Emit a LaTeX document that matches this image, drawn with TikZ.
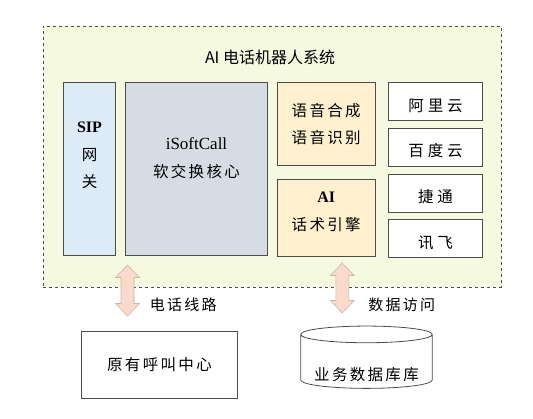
\documentclass[tikz,border=0pt]{standalone}
\usepackage{fontspec}
\setmainfont{Liberation Serif}
\newfontfamily\cjk[LetterSpace=15]{Noto Sans CJK SC}
\newfontfamily\cjkwide[LetterSpace=25]{Noto Sans CJK SC}
\newfontfamily\cjktitle{Noto Sans CJK SC}
\usepackage{tikz}
\usetikzlibrary{shapes.geometric, positioning}
\definecolor{sysgreen}{RGB}{245, 249, 224}
\definecolor{sipblue}{RGB}{221, 235, 247}
\definecolor{coregray}{RGB}{214, 220, 228}
\definecolor{aiorange}{RGB}{255, 240, 206}
\definecolor{linkpink}{RGB}{251, 217, 203}
\definecolor{linkedge}{RGB}{205, 180, 172}
\tikzstyle{system} = [rectangle, dashed, draw=black!70, fill=sysgreen, minimum width=458pt, minimum height=261pt]
\tikzstyle{block} = [rectangle, draw=black!70, line width=0.8pt, inner sep=0pt, align=center]
\tikzstyle{engine} = [block, minimum width=97.7pt, fill=aiorange]
\tikzstyle{cloud} = [block, minimum width=93.6pt, minimum height=37.9pt, fill=white, text height=19pt, text depth=0pt, font=\cjkwide\fontsize{15.5}{20}\selectfont]
\tikzstyle{link} = [draw=linkedge, fill=linkpink, line width=0.6pt, line join=miter]
\tikzstyle{database} = [cylinder, shape border rotate=90, shape aspect=0.15, draw=black!70, line width=0.8pt, minimum width=131.6pt, minimum height=62.3pt, inner ysep=0pt, text height=36pt, text depth=0pt]

\begin{document}
\begin{tikzpicture}[x=1pt, y=-1pt, node distance=7pt, font=\cjk\fontsize{15.5}{27.7}\selectfont]
        \useasboundingbox (0,0) rectangle (533,419);
        \node (system) [system] at (271.7,156.5) {};
        \node (title) at (270,57) {\cjktitle\fontsize{16}{18}\selectfont AI 电话机器人系统};

        \node (sip) [block, fill=sipblue, minimum width=52.4pt, minimum height=172.6pt] at (89.5,169) {};
        \node (siptext) [align=center] at (89.5,155.5) {{\rmfamily\bfseries\fontsize{16}{27.7}\selectfont SIP}\\网\\关};
        \node (core) [block, fill=coregray, minimum width=141.6pt, minimum height=172.6pt] at (196.5,169) {};
        \node (coretext) [align=center] at (196.5,158) {\fontsize{15.5}{32.6}\selectfont{\rmfamily\fontsize{17}{32.6}\selectfont iSoftCall}\\软交换核心};

        \node (tts) [engine, minimum height=82.6pt] at (326.2,124) {语音合成\\语音识别};
        \node (script) [engine, minimum height=76.3pt, below=13.7pt of tts] {};
        \node (scripttext) [align=center] at (script.center) [yshift=6pt] {\fontsize{15.5}{21.7}\selectfont{\rmfamily\bfseries\fontsize{16}{21.7}\selectfont AI}\\话术引擎};

        \node (ali) [cloud] at (435.5,101.6) {阿里云};
        \node (baidu) [cloud, below=of ali] {百度云};
        \node (jietong) [cloud, below=of baidu] {捷通};
        \node (xunfei) [cloud, below=of jietong] {讯飞};

        \node (callcenter) [block, minimum width=155.6pt, minimum height=67.3pt] at (159.5,364.7) {原有呼叫中心};
        \node (db) [database] at (366.5,362.9) {业务数据库库};

        % double arrows between the system and the outside
        \coordinate (calllink) at (127.5,290.5);
        \coordinate (datalink) at (342.3,288);
        \draw [link, shift={(calllink)}] (0,-25.5) -- (12,-13) -- (6.5,-13) -- (6.5,13) -- (12,13) -- (0,25.5)
            -- (-12,13) -- (-6.5,13) -- (-6.5,-13) -- (-12,-13) -- cycle;
        \draw [link, shift={(datalink)}] (0,-25) -- (12,-12.5) -- (6.5,-12.5) -- (6.5,12.5) -- (12,12.5) -- (0,25)
            -- (-12,12.5) -- (-6.5,12.5) -- (-6.5,-12.5) -- (-12,-12.5) -- cycle;
        \node (calllabel) at (183.3,305) {\fontsize{15}{18}\selectfont 电话线路};
        \node (datalabel) at (401.7,305) {\fontsize{15}{18}\selectfont 数据访问};
    \end{tikzpicture}
\end{document}
